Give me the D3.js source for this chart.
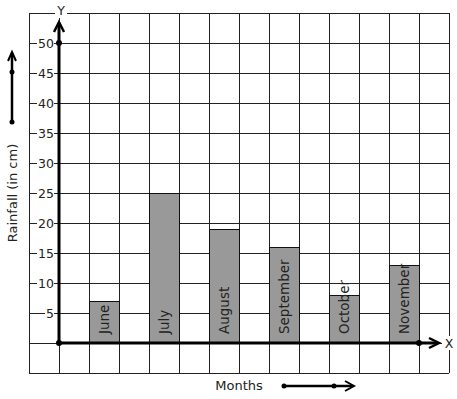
<!DOCTYPE html>
<html>
<head>
<meta charset="utf-8">
<script src="https://cdn.jsdelivr.net/npm/d3@7"></script>
<style>
  body { margin: 0; background: #fff; }
  text { font-family: "DejaVu Sans", sans-serif; fill: #222; }
</style>
</head>
<body>
<div id="chart"></div>
<script>
// data
var months = ["June", "July", "August", "September", "October", "November"];
var rainfall = [7, 25, 19, 16, 8, 13];
var yTicks = [5, 10, 15, 20, 25, 30, 35, 40, 45, 50];

var width = 457, height = 399;

var svg = d3.select("#chart").append("svg")
    .attr("width", width)
    .attr("height", height);

// scales
var x = d3.scaleBand().domain(months).range([59, 449]).padding(0.5);
var y = d3.scaleLinear().domain([0, 50]).range([343, 43]);
var gx = d3.scaleLinear().domain([0, 14]).range([29, 449]);

// grid
var grid = svg.append("g")
    .attr("stroke", "#222")
    .attr("stroke-width", 1)
    .attr("shape-rendering", "crispEdges");

grid.selectAll(".h")
    .data(d3.range(-5, 56, 5))
    .enter().append("line")
    .attr("x1", gx(0)).attr("x2", gx(14))
    .attr("y1", function(d) { return y(d); })
    .attr("y2", function(d) { return y(d); });

grid.selectAll(".v")
    .data(d3.range(0, 15))
    .enter().append("line")
    .attr("y1", y(55)).attr("y2", y(-5))
    .attr("x1", function(d) { return gx(d); })
    .attr("x2", function(d) { return gx(d); });

// bars
svg.append("g").selectAll("rect")
    .data(months)
    .enter().append("rect")
    .attr("x", function(d) { return x(d); })
    .attr("y", function(d, i) { return y(rainfall[i]); })
    .attr("width", x.bandwidth())
    .attr("height", function(d, i) { return y(0) - y(rainfall[i]); })
    .attr("fill", "#999")
    .attr("stroke", "#111")
    .attr("stroke-width", 1)
    .attr("shape-rendering", "crispEdges");

// labels in bars
svg.append("g").selectAll("text")
    .data(months)
    .enter().append("text")
    .attr("transform", function(d) {
        return "translate(" + (x(d) + x.bandwidth() / 2) + "," + (y(0) - 9) + ") rotate(-90)";
    })
    .attr("dominant-baseline", "central")
    .style("font-size", "13.5px")
    .text(function(d) { return d; });

// y tick labels with white background
var ticks = svg.append("g").selectAll("g")
    .data(yTicks)
    .enter().append("g")
    .attr("transform", function(d) { return "translate(54," + y(d) + ")"; });

ticks.append("rect")
    .attr("x", function(d) { return d < 10 ? -9 : -17; })
    .attr("y", -6)
    .attr("width", function(d) { return d < 10 ? 9 : 17; })
    .attr("height", 12)
    .attr("fill", "#fff");

ticks.append("text")
    .attr("text-anchor", "end")
    .attr("dominant-baseline", "central")
    .style("font-size", "12.5px")
    .text(function(d) { return d; });

// axes
var axes = svg.append("g").attr("stroke", "#000").attr("fill", "none").attr("stroke-width", 3);
axes.append("line").attr("x1", 59).attr("x2", 59).attr("y1", y(0)).attr("y2", 23);
axes.append("line").attr("x1", 59).attr("x2", 437).attr("y1", y(0)).attr("y2", y(0));
axes.append("path").attr("d", "M54,32 L59,22 L64,32").attr("stroke-width", 2.5);
axes.append("path").attr("d", "M429,338 L439," + y(0) + " L429,348").attr("stroke-width", 2.5);

svg.selectAll(".dot")
    .data([[59, y(0)], [59, y(50)], [x("November") + x.bandwidth(), y(0)]])
    .enter().append("circle")
    .attr("cx", function(d) { return d[0]; })
    .attr("cy", function(d) { return d[1]; })
    .attr("r", 3)
    .attr("fill", "#000");

// axis letters
svg.append("rect").attr("x", 55).attr("y", 4).attr("width", 12).attr("height", 14).attr("fill", "#fff");
svg.append("text").attr("x", 61).attr("y", 10).attr("text-anchor", "middle")
    .attr("dominant-baseline", "central").style("font-size", "12.5px").text("Y");
svg.append("rect").attr("x", 442).attr("y", 336).attr("width", 14).attr("height", 14).attr("fill", "#fff");
svg.append("text").attr("x", 449).attr("y", 343).attr("text-anchor", "middle")
    .attr("dominant-baseline", "central").style("font-size", "12.5px").text("X");

// axis titles
svg.append("text")
    .attr("transform", "translate(12,193) rotate(-90)")
    .attr("text-anchor", "middle")
    .attr("dominant-baseline", "central")
    .style("font-size", "13px")
    .text("Rainfall (in cm)");

svg.append("text")
    .attr("x", 239).attr("y", 385)
    .attr("text-anchor", "middle")
    .attr("dominant-baseline", "central")
    .style("font-size", "13px")
    .text("Months");

// side arrows
var arr = svg.append("g").attr("stroke", "#000").attr("fill", "none").attr("stroke-width", 2.5);
arr.append("line").attr("x1", 12).attr("x2", 12).attr("y1", 122).attr("y2", 53);
arr.append("path").attr("d", "M8,61 L12,52 L16,61").attr("stroke-width", 2);
arr.append("line").attr("x1", 284).attr("x2", 352).attr("y1", 386).attr("y2", 386);
arr.append("path").attr("d", "M345,381 L354,386 L345,391").attr("stroke-width", 2);

svg.selectAll(".sdot")
    .data([[12, 72], [12, 122], [284, 386], [334, 386]])
    .enter().append("circle")
    .attr("cx", function(d) { return d[0]; })
    .attr("cy", function(d) { return d[1]; })
    .attr("r", 2.5)
    .attr("fill", "#000");
</script>
</body>
</html>
